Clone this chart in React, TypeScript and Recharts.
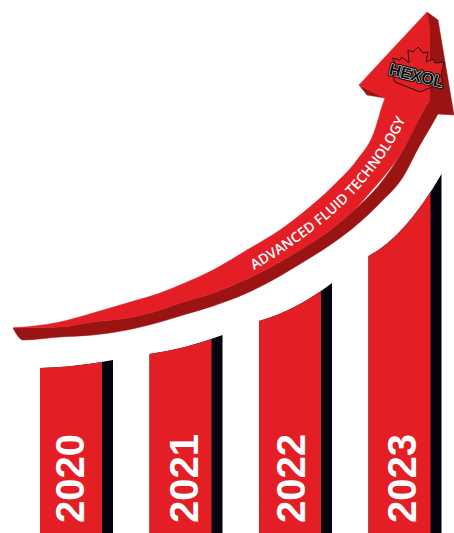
import { Area, Bar, BarChart, ComposedChart, XAxis, YAxis } from "recharts";

const WIDTH = 454;
const HEIGHT = 533;

const RED = "#e31e24";
const DARK_RED = "#9b1414";
const BLACK = "#05030f";

// bars, read as height above the bottom of the picture
const years = ["2020", "2021", "2022", "2023"];
const edgeLeft = [165, 179, 212, 277];
const edgeSplit = [171, 194, 242, 341];
const edgeRight = [173, 198, 250, 359];

const barData = years.map((year, i) => ({
  year,
  edgeLeft: edgeLeft[i],
  edgeSplit: edgeSplit[i],
  edgeRight: edgeRight[i],
}));

// arrow outline, same units
const shaftX = [13, 60, 93, 127, 160, 180, 213, 247, 280, 300, 333, 357, 373, 385, 403, 420, 428];
const shaftTop = [205, 211, 220, 230, 240, 248, 263, 283, 303, 318, 347, 373, 398, 435, 458, 468, 473];
const shaftBottom = [205, 206, 211, 215, 223, 230, 240, 254, 271, 283, 305, 326, 344, 358, 383, 416, 431];

const bandX = [13, 23, 60, 93, 127, 160, 180, 213, 247, 280, 300, 333, 353, 380, 403, 420, 430, 438];
const bandTop = [205, 205, 206, 211, 215, 223, 230, 240, 254, 271, 283, 305, 322, 349, 383, 416, 431, 419];
const bandBottom = [205, 193, 196, 198, 203, 211, 217, 227, 240, 257, 269, 290, 305, 330, 356, 388, 405, 419];

const headX = [359, 385, 427, 430];
const headTop = [448, 476, 521, 503];
const headBottom = [448, 435, 432, 431];

const headSideX = [427, 438, 454];
const headSideTop = [521, 513, 418];
const headSideBottom = [432, 419, 418];

const wingX = [359, 367, 385];
const wingTop = [448, 444, 435];
const wingBottom = [448, 438, 435];

const ribbonText = "ADVANCED FLUID TECHNOLOGY";
const logoText = "HEXOL";

const LABEL_NUDGE = [-2, 2, 0, 1];
const LEAF =
  "390,68 395,63 392,58 400,60 402,57 409,63 408,50 413,52 418,47 423,53 428,52 426,62 433,59 435,63 444,62 441,76 443,82 420,92 395,82";

const toRows = (xs: number[], tops: number[], bottoms: number[]) =>
  xs.map((x, i) => ({ x, range: [bottoms[i], tops[i]] }));

const lerp = (a: number, b: number, t: number) => a + (b - a) * t;

function CurvedBar(props: any) {
  const { x, y, width, height, payload, index } = props;
  const base = y + height;
  const unit = height / payload.edgeRight;
  const y0 = base - payload.edgeLeft * unit;
  const ySplit = base - payload.edgeSplit * unit;
  const y1 = y;
  const t = 62 / 73;
  // control point so the top edge runs through the red/black corner
  const cy = (ySplit - (1 - t) * (1 - t) * y0 - t * t * y1) / (2 * t * (1 - t));
  const cx = x + width / 2;
  const redEnd = x + width * t;
  const redCx = lerp(x, cx, t);
  const redCy = lerp(y0, cy, t);
  return (
    <g>
      <path
        d={`M${x},${base} L${x},${y0} Q${cx},${cy} ${x + width},${y1} L${x + width},${base} Z`}
        fill={BLACK}
      />
      <path
        d={`M${x},${base} L${x},${y0} Q${redCx},${redCy} ${redEnd},${ySplit} L${redEnd},${base} Z`}
        fill={RED}
      />
      <text
        transform={`translate(${x + 32 + LABEL_NUDGE[index]},523) rotate(-90)`}
        textAnchor="start"
        dominantBaseline="central"
        fontFamily="Liberation Sans"
        fontWeight={700}
        fontSize={40}
        fill="#fff"
      >
        {payload.year}
      </text>
    </g>
  );
}

export default function App() {
  const part = (
    rows: { x: number; range: number[] }[],
    fill: string,
    key: string,
    curve: "linear" | "monotone" = "linear",
  ) => (
    <Area
      key={key}
      data={rows}
      dataKey="range"
      type={curve}
      stroke={fill}
      strokeWidth={0.5}
      fill={fill}
      fillOpacity={1}
      dot={false}
      activeDot={false}
      isAnimationActive={false}
    />
  );
  return (
    <div
      style={{
        position: "absolute",
        left: 0,
        top: 0,
        width: WIDTH,
        height: HEIGHT,
        overflow: "hidden",
        background: "#fff",
      }}
    >
      <div style={{ position: "absolute", left: 0, top: 0 }}>
        <BarChart
          width={460}
          height={HEIGHT}
          data={barData}
          margin={{ top: 0, right: 0, bottom: 0, left: 22 }}
        >
          <XAxis dataKey="year" hide />
          <YAxis type="number" domain={[0, HEIGHT]} hide />
          <Bar dataKey="edgeRight" barSize={73} shape={CurvedBar} isAnimationActive={false} />
        </BarChart>
      </div>
      <div style={{ position: "absolute", left: 0, top: 0 }}>
        <ComposedChart
          width={WIDTH}
          height={HEIGHT}
          margin={{ top: 0, right: 0, bottom: 0, left: 0 }}
        >
          <XAxis type="number" dataKey="x" domain={[0, WIDTH]} hide allowDuplicatedCategory={false} />
          <YAxis type="number" domain={[0, HEIGHT]} hide />
          {part(toRows(bandX, bandTop, bandBottom), DARK_RED, "band", "monotone")}
          {part(toRows(headSideX, headSideTop, headSideBottom), DARK_RED, "side")}
          {part(toRows(wingX, wingTop, wingBottom), DARK_RED, "wing")}
          {part(toRows(shaftX, shaftTop, shaftBottom), RED, "shaft", "monotone")}
          {part(toRows(headX, headTop, headBottom), RED, "head")}
        </ComposedChart>
      </div>
      <svg
        width={WIDTH}
        height={HEIGHT}
        style={{ position: "absolute", left: 0, top: 0, pointerEvents: "none" }}
      >
        <defs>
          <path id="ribbon" d="M254,270 C285,252 325,225 355,193 C375,171 395,145 407,116" />
        </defs>
        <text fontFamily="Open Sans" fontWeight={600} fontSize={14} fill="#fff">
          <textPath href="#ribbon">{ribbonText}</textPath>
        </text>
        <polygon points={LEAF} fill={RED} stroke="#1c1414" strokeWidth={1} />
        <g
          transform="translate(415,81) rotate(14)"
          textAnchor="middle"
          fontFamily="Liberation Sans"
          fontWeight={700}
          fontSize={16}
        >
          <text stroke="#1c1414" strokeWidth={3.5} strokeLinejoin="round" fill="#1c1414">
            {logoText}
          </text>
          <text stroke="#e8e8e8" strokeWidth={1} strokeLinejoin="round" fill="#e8e8e8">
            {logoText}
          </text>
          <text fill="#0b0b0b">{logoText}</text>
        </g>
      </svg>
    </div>
  );
}
